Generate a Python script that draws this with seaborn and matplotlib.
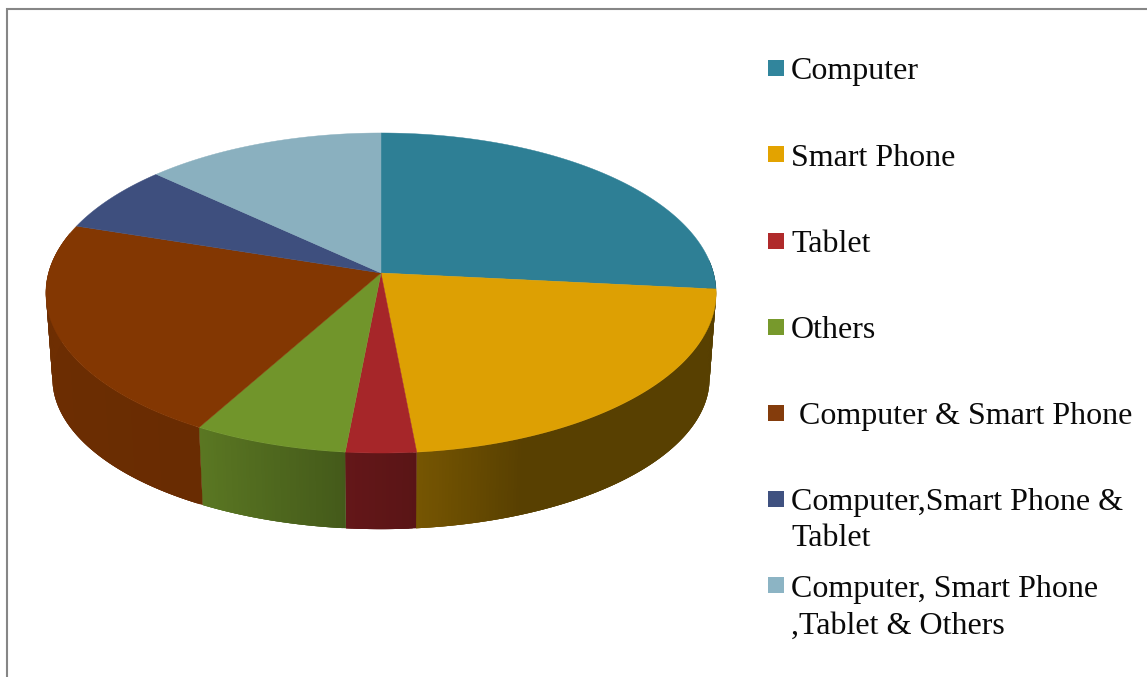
import numpy as np
import matplotlib
matplotlib.use("Agg")
import matplotlib.pyplot as plt
from matplotlib.patches import Rectangle
import seaborn as sns

# 1. DATA (share of respondents in %)
categories = ["Computer", "Smart Phone", "Tablet", "Others", "Computer & Smart Phone",
              "Computer,Smart Phone &\nTablet", "Computer, Smart Phone\n,Tablet & Others"]
shares = [26.6, 21.9, 3.0, 6.6, 21.9, 6.9, 13.1]
legend_colors = ["#31859C", "#E3A300", "#B02A2B", "#77992C", "#843C0C", "#3F5180", "#8CB4C4"]
top_colors = ["#2E7F95", "#DDA003", "#A62629", "#71952B", "#833702", "#3E4F7E", "#8AB0BF"]

# 2. STYLE
sns.set_theme(style="white")
plt.rcParams["font.family"] = ["Liberation Serif", "DejaVu Serif"]
palette = sns.color_palette(top_colors)

fig = plt.figure(figsize=(11.47, 6.77), dpi=100)
ax = fig.add_axes([0, 0, 1, 1])
ax.set_xlim(0, 1147)
ax.set_ylim(677, 0)
ax.axis("off")

# 3. TILTED DISC: pie angle -> picture position, with a bit of perspective
CX = 381
K = 0.125


def top_point(theta):
    x, y = np.sin(theta), np.cos(theta)
    w = 1 + K * y
    return CX + 332.5 * x / w, (273 - 123.4 * y) / w


def low_point(theta):
    x, y = np.sin(theta), np.cos(theta)
    w = 1 + K * y
    return CX + 326 * x / w, (359.5 - 103.5 * y) / w


def wall_shade(deg):
    return np.interp(deg, [96, 158, 175, 185, 209, 288], [0.40, 0.40, 0.54, 0.60, 0.80, 0.85])


edges = np.concatenate([[0], np.cumsum(shares)]) / np.sum(shares) * 360

# side wall first. Strips overlap the next ones, otherwise thin seams show up
for i, color in enumerate(palette):
    start, end = max(edges[i], 85), min(edges[i + 1], 285)
    if end <= start:
        continue
    steps = np.linspace(start, end, int(end - start) * 2 + 2)
    for k in range(len(steps) - 1):
        seg = np.radians(np.linspace(steps[k], steps[min(k + 3, len(steps) - 1)], 8))
        xt, yt = top_point(seg)
        xl, yl = low_point(seg)
        shade = wall_shade((steps[k] + steps[k + 1]) / 2)
        strip = tuple(c * shade for c in color)
        ax.fill(np.r_[xt, xl[::-1]], np.r_[yt, yl[::-1]], color=strip, lw=0)

# top face
for i, color in enumerate(palette):
    angles = np.radians(np.linspace(edges[i], edges[i + 1], 200))
    xs, ys = top_point(angles)
    ax.fill(np.r_[CX, xs], np.r_[273, ys], color=color, lw=0.3)

# 4. LEGEND
box_tops = [60, 146, 233, 319, 405, 491, 577]
text_x = [791, 791, 791, 791, 799, 791, 791]
baselines = [79, 166, 252, 338, 424, 510, 597]
for label, c, top, tx, base in zip(categories, legend_colors, box_tops, text_x, baselines):
    ax.add_patch(Rectangle((768, top), 16, 16, facecolor=c, edgecolor="none"))
    for n, line in enumerate(label.split("\n")):
        ax.text(tx, base + n * 36.5, line, fontsize=23, color="#0a0a0a", ha="left", va="baseline")

# 5. FRAME (only left and top edges show)
ax.plot([7, 7, 1147], [677, 8.5, 8.5], color="#868686", lw=1.5, solid_joinstyle="miter")

fig.savefig("out.png", dpi=100)
